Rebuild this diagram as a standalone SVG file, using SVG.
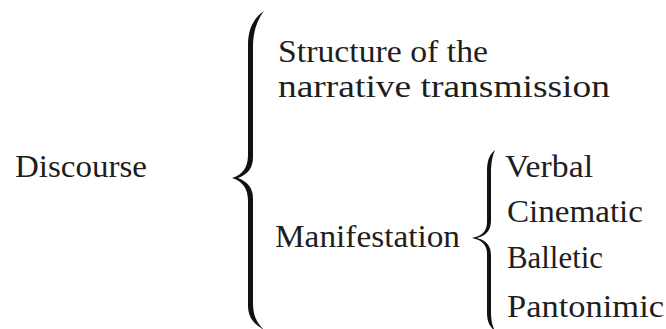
<svg xmlns="http://www.w3.org/2000/svg" width="666" height="329" viewBox="0 0 666 329">
<style>
text{font-family:"Liberation Serif","Times New Roman",serif;font-size:32px;fill:#1e1e1e}
.brace{fill:#111}
</style>
<rect width="666" height="329" fill="#fff"/>
<g id="discourse"><text x="15" y="177" textLength="132" lengthAdjust="spacingAndGlyphs">Discourse</text></g>
<g id="connectors">
<path class="brace" d="M264,11 C254,18 248,28 248,45 L248,155 C248,168 242,175 232,178 C242,181 248,188 248,201 L248,305 C248,318 254,324 264,330 C257,323 253,316 253,303 L253,199 C253,188 248,182 238,178 C248,174 253,168 253,157 L253,47 C253,32 257,20 264,11 Z"/>
<path class="brace" d="M495,150 C489,155 487,161 487,172 L487,222 C487,231 482,236 472,238 C482,240 487,245 487,254 L487,312 C487,321 489,326 495,331 C492,325 491,320 491,310 L491,256 C491,247 488,241 477,238 C488,235 491,229 491,220 L491,174 C491,164 492,157 495,150 Z"/>
</g>
<g id="structure"><text x="278" y="62" textLength="210" lengthAdjust="spacingAndGlyphs">Structure of the</text>
<text x="278" y="97" textLength="332" lengthAdjust="spacingAndGlyphs">narrative transmission</text></g>
<g id="manifestation"><text x="275" y="247" textLength="185" lengthAdjust="spacingAndGlyphs">Manifestation</text></g>
<g id="verbal"><text x="505" y="177" textLength="88" lengthAdjust="spacingAndGlyphs">Verbal</text></g>
<g id="cinematic"><text x="507" y="222" textLength="136" lengthAdjust="spacingAndGlyphs">Cinematic</text></g>
<g id="balletic"><text x="507" y="268" textLength="96" lengthAdjust="spacingAndGlyphs">Balletic</text></g>
<g id="pantonimic"><text x="507" y="317" textLength="157" lengthAdjust="spacingAndGlyphs">Pantonimic</text></g>
</svg>
